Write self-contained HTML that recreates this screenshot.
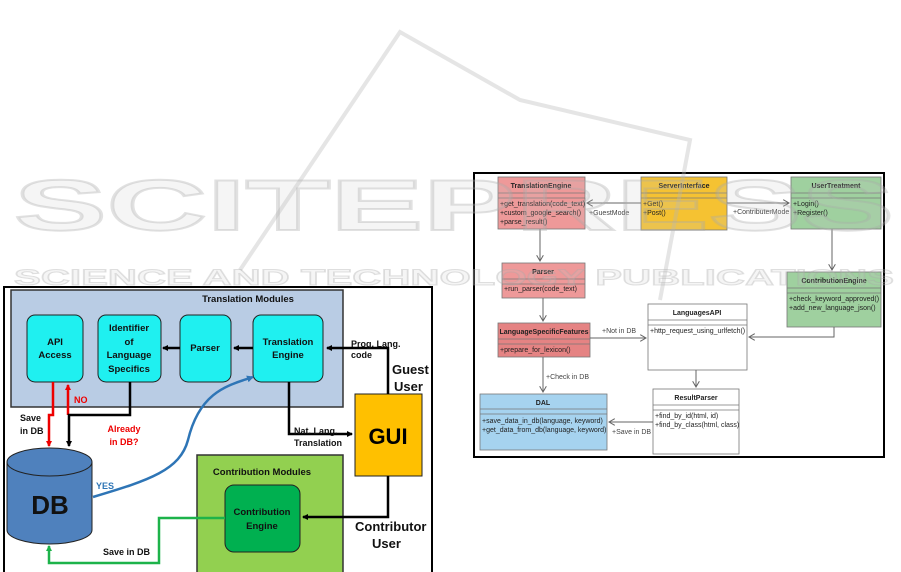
<!DOCTYPE html>
<html><head><meta charset="utf-8"><style>
html,body{margin:0;padding:0;background:#fff;width:901px;height:572px;overflow:hidden}
svg{display:block}
</style></head><body>
<svg width="901" height="572" viewBox="0 0 901 572" xmlns="http://www.w3.org/2000/svg" font-family="Liberation Sans, sans-serif">
<defs>
<marker id="ab" markerWidth="6" markerHeight="6" refX="5" refY="3" orient="auto" markerUnits="userSpaceOnUse"><path d="M0,0 L6,3 L0,6 z" fill="#000"/></marker>
<marker id="ar" markerWidth="6" markerHeight="6" refX="5" refY="3" orient="auto" markerUnits="userSpaceOnUse"><path d="M0,0 L6,3 L0,6 z" fill="#e00"/></marker>
<marker id="ag" markerWidth="6" markerHeight="6" refX="5" refY="3" orient="auto" markerUnits="userSpaceOnUse"><path d="M0,0 L6,3 L0,6 z" fill="#1db34a"/></marker>
<marker id="abl" markerWidth="7" markerHeight="7" refX="6" refY="3.5" orient="auto" markerUnits="userSpaceOnUse"><path d="M0,0 L7,3.5 L0,7 z" fill="#2e75b6"/></marker>
<marker id="ao" markerWidth="7" markerHeight="7" refX="6" refY="3.5" orient="auto" markerUnits="userSpaceOnUse"><path d="M0,0 L6,3.5 L0,7" fill="none" stroke="#666" stroke-width="1"/></marker>
</defs>

<!-- LEFT DIAGRAM -->
<rect x="4" y="287" width="428" height="290" fill="#fff" stroke="#000" stroke-width="2"/>
<rect x="11" y="290" width="332" height="117" fill="#b9cce4" stroke="#333" stroke-width="1.5"/>
<text x="248" y="302" font-size="9.5" font-weight="bold" text-anchor="middle" fill="#111">Translation Modules</text>
<g stroke="#222" stroke-width="1" fill="#1ff0f0">
<rect x="27" y="315" width="56" height="67" rx="8"/>
<rect x="98" y="315" width="63" height="67" rx="8"/>
<rect x="180" y="315" width="51" height="67" rx="8"/>
<rect x="253" y="315" width="70" height="67" rx="8"/>
</g>
<g font-size="9.5" font-weight="bold" text-anchor="middle" fill="#111">
<text x="55" y="345">API</text><text x="55" y="358">Access</text>
<text x="129" y="331">Identifier</text><text x="129" y="345">of</text><text x="129" y="358">Language</text><text x="129" y="372">Specifics</text>
<text x="205" y="351">Parser</text>
<text x="288" y="345">Translation</text><text x="288" y="358">Engine</text>
</g>
<rect x="355" y="394" width="67" height="82" fill="#ffc000" stroke="#222"/>
<text x="388" y="444" font-size="22" font-weight="bold" text-anchor="middle" fill="#000">GUI</text>
<rect x="197" y="455" width="146" height="125" fill="#92d050" stroke="#333" stroke-width="1.5"/>
<text x="262" y="475" font-size="9.5" font-weight="bold" text-anchor="middle" fill="#111">Contribution Modules</text>
<rect x="225" y="485" width="75" height="67" rx="9" fill="#00b050" stroke="#222"/>
<text x="262" y="515" font-size="9.5" font-weight="bold" text-anchor="middle" fill="#111">Contribution</text>
<text x="262" y="529" font-size="9.5" font-weight="bold" text-anchor="middle" fill="#111">Engine</text>
<path d="M7,462 L7,530 A42.5,14 0 0 0 92,530 L92,462" fill="#4f81bd" stroke="#222"/>
<ellipse cx="49.5" cy="462" rx="42.5" ry="14" fill="#4f81bd" stroke="#222"/>
<text x="50" y="514" font-size="26" font-weight="bold" text-anchor="middle" fill="#111">DB</text>
<g fill="none" stroke-width="2.5">
<path d="M388,394 L388,348 L327,348" stroke="#000" marker-end="url(#ab)"/>
<path d="M253,348 L234,348" stroke="#000" marker-end="url(#ab)"/>
<path d="M180,348 L163,348" stroke="#000" marker-end="url(#ab)"/>
<path d="M53,382 L53,415 L49,415 L49,446" stroke="#e00" marker-end="url(#ar)"/>
<path d="M68,415 L68,385" stroke="#e00" marker-end="url(#ar)"/>
<path d="M130,382 L130,415 L69,415 L69,446" stroke="#000" marker-end="url(#ab)"/>
<path d="M93,497 C150,480 180,470 188,440 C200,390 230,385 253,377" stroke="#2e75b6" marker-end="url(#abl)"/>
<path d="M289,382 L289,434 L352,434" stroke="#000" marker-end="url(#ab)"/>
<path d="M388,476 L388,517 L303,517" stroke="#000" marker-end="url(#ab)"/>
<path d="M225,518 L159,518 L159,563 L49,563 L49,546" stroke="#1db34a" marker-end="url(#ag)"/>
</g>
<g font-size="9" font-weight="bold" fill="#111">
<text x="351" y="347">Prog. Lang.</text><text x="351" y="358">code</text>
<text x="392" y="374" font-size="13">Guest</text><text x="394" y="391" font-size="13">User</text>
<text x="20" y="421">Save</text><text x="20" y="434">in DB</text>
<text x="74" y="403" fill="#e00">NO</text>
<text x="124" y="432" fill="#e00" text-anchor="middle">Already</text><text x="124" y="445" fill="#e00" text-anchor="middle">in DB?</text>
<text x="96" y="489" fill="#2e75b6">YES</text>
<text x="294" y="434">Nat. Lang.</text><text x="294" y="446">Translation</text>
<text x="355" y="531" font-size="13">Contributor</text><text x="372" y="548" font-size="13">User</text>
<text x="103" y="555">Save in DB</text>
</g>

<!-- RIGHT DIAGRAM -->
<rect x="474" y="173" width="410" height="284" fill="#fff" stroke="#000" stroke-width="2"/>
<g stroke="#777" stroke-width="0.8" font-size="7" fill="#333">
<rect x="498" y="177" width="87" height="52" fill="#ee9999"/>
<line x1="498" y1="193" x2="585" y2="193"/><line x1="498" y1="198" x2="585" y2="198"/>
<rect x="641" y="177" width="86" height="53" fill="#f5c232"/>
<line x1="641" y1="193" x2="727" y2="193"/><line x1="641" y1="198" x2="727" y2="198"/>
<rect x="791" y="177" width="90" height="52" fill="#9fd09f"/>
<line x1="791" y1="193" x2="881" y2="193"/><line x1="791" y1="198" x2="881" y2="198"/>
<rect x="502" y="263" width="83" height="35" fill="#ee9999"/>
<line x1="502" y1="279" x2="585" y2="279"/><line x1="502" y1="284" x2="585" y2="284"/>
<rect x="787" y="272" width="94" height="55" fill="#9fd09f"/>
<line x1="787" y1="288" x2="881" y2="288"/><line x1="787" y1="293" x2="881" y2="293"/>
<rect x="648" y="304" width="99" height="66" fill="#fff"/>
<line x1="648" y1="320" x2="747" y2="320"/><line x1="648" y1="325" x2="747" y2="325"/>
<rect x="498" y="323" width="92" height="34" fill="#e58383"/>
<line x1="498" y1="339" x2="590" y2="339"/><line x1="498" y1="344" x2="590" y2="344"/>
<rect x="480" y="394" width="127" height="56" fill="#a6d3ef"/>
<line x1="480" y1="409" x2="607" y2="409"/><line x1="480" y1="414" x2="607" y2="414"/>
<rect x="653" y="389" width="86" height="65" fill="#fff"/>
<line x1="653" y1="405" x2="739" y2="405"/><line x1="653" y1="410" x2="739" y2="410"/>
</g>
<g font-size="7" fill="#222">
<g font-weight="bold" text-anchor="middle">
<text x="541" y="188">TranslationEngine</text>
<text x="684" y="188">ServerInterface</text>
<text x="836" y="188">UserTreatment</text>
<text x="543" y="274">Parser</text>
<text x="834" y="283">ContributionEngine</text>
<text x="697" y="315">LanguagesAPI</text>
<text x="544" y="334">LanguageSpecificFeatures</text>
<text x="543" y="405">DAL</text>
<text x="696" y="400">ResultParser</text>
</g>
<text x="500" y="206">+get_translation(code_text)</text>
<text x="500" y="215">+custom_google_search()</text>
<text x="500" y="224">+parse_result()</text>
<text x="643" y="206">+Get()</text><text x="643" y="215">+Post()</text>
<text x="793" y="206">+Login()</text><text x="793" y="215">+Register()</text>
<text x="504" y="291">+run_parser(code_text)</text>
<text x="789" y="301">+check_keyword_approved()</text>
<text x="789" y="310">+add_new_language_json()</text>
<text x="650" y="333">+http_request_using_urlfetch()</text>
<text x="500" y="352">+prepare_for_lexicon()</text>
<text x="482" y="423">+save_data_in_db(language, keyword)</text>
<text x="482" y="432">+get_data_from_db(language, keyword)</text>
<text x="655" y="418">+find_by_id(html, id)</text>
<text x="655" y="427">+find_by_class(html, class)</text>
<g fill="#444">
<text x="589" y="215">+GuestMode</text>
<text x="733" y="214">+ContributerMode</text>
<text x="602" y="333">+Not in DB</text>
<text x="546" y="379">+Check in DB</text>
<text x="612" y="434">+Save in DB</text>
</g>
</g>
<g fill="none" stroke="#666" stroke-width="1">
<path d="M641,203 L587,203" marker-end="url(#ao)"/>
<path d="M727,203 L789,203" marker-end="url(#ao)"/>
<path d="M540,229 L540,261" marker-end="url(#ao)"/>
<path d="M832,229 L832,270" marker-end="url(#ao)"/>
<path d="M543,298 L543,321" marker-end="url(#ao)"/>
<path d="M590,338 L646,338" marker-end="url(#ao)"/>
<path d="M834,327 L834,337 L749,337" marker-end="url(#ao)"/>
<path d="M543,357 L543,392" marker-end="url(#ao)"/>
<path d="M696,370 L696,387" marker-end="url(#ao)"/>
<path d="M653,422 L609,422" marker-end="url(#ao)"/>
</g>

<!-- watermark overlay -->
<g fill="none" stroke="rgba(180,180,180,0.35)" stroke-width="4">
<path d="M240,270 L400,32 L520,100 L690,140 L660,300"/>
</g>
<text x="14" y="230" font-size="72" font-weight="bold" fill="rgba(200,200,200,0.18)" stroke="rgba(170,170,170,0.35)" stroke-width="2" textLength="880" lengthAdjust="spacingAndGlyphs">SCITEPRESS</text>
<text x="14" y="285" font-size="22" font-weight="bold" fill="rgba(200,200,200,0.18)" stroke="rgba(170,170,170,0.35)" stroke-width="1" textLength="880" lengthAdjust="spacingAndGlyphs">SCIENCE AND TECHNOLOGY PUBLICATIONS</text>
</svg>
</body></html>
